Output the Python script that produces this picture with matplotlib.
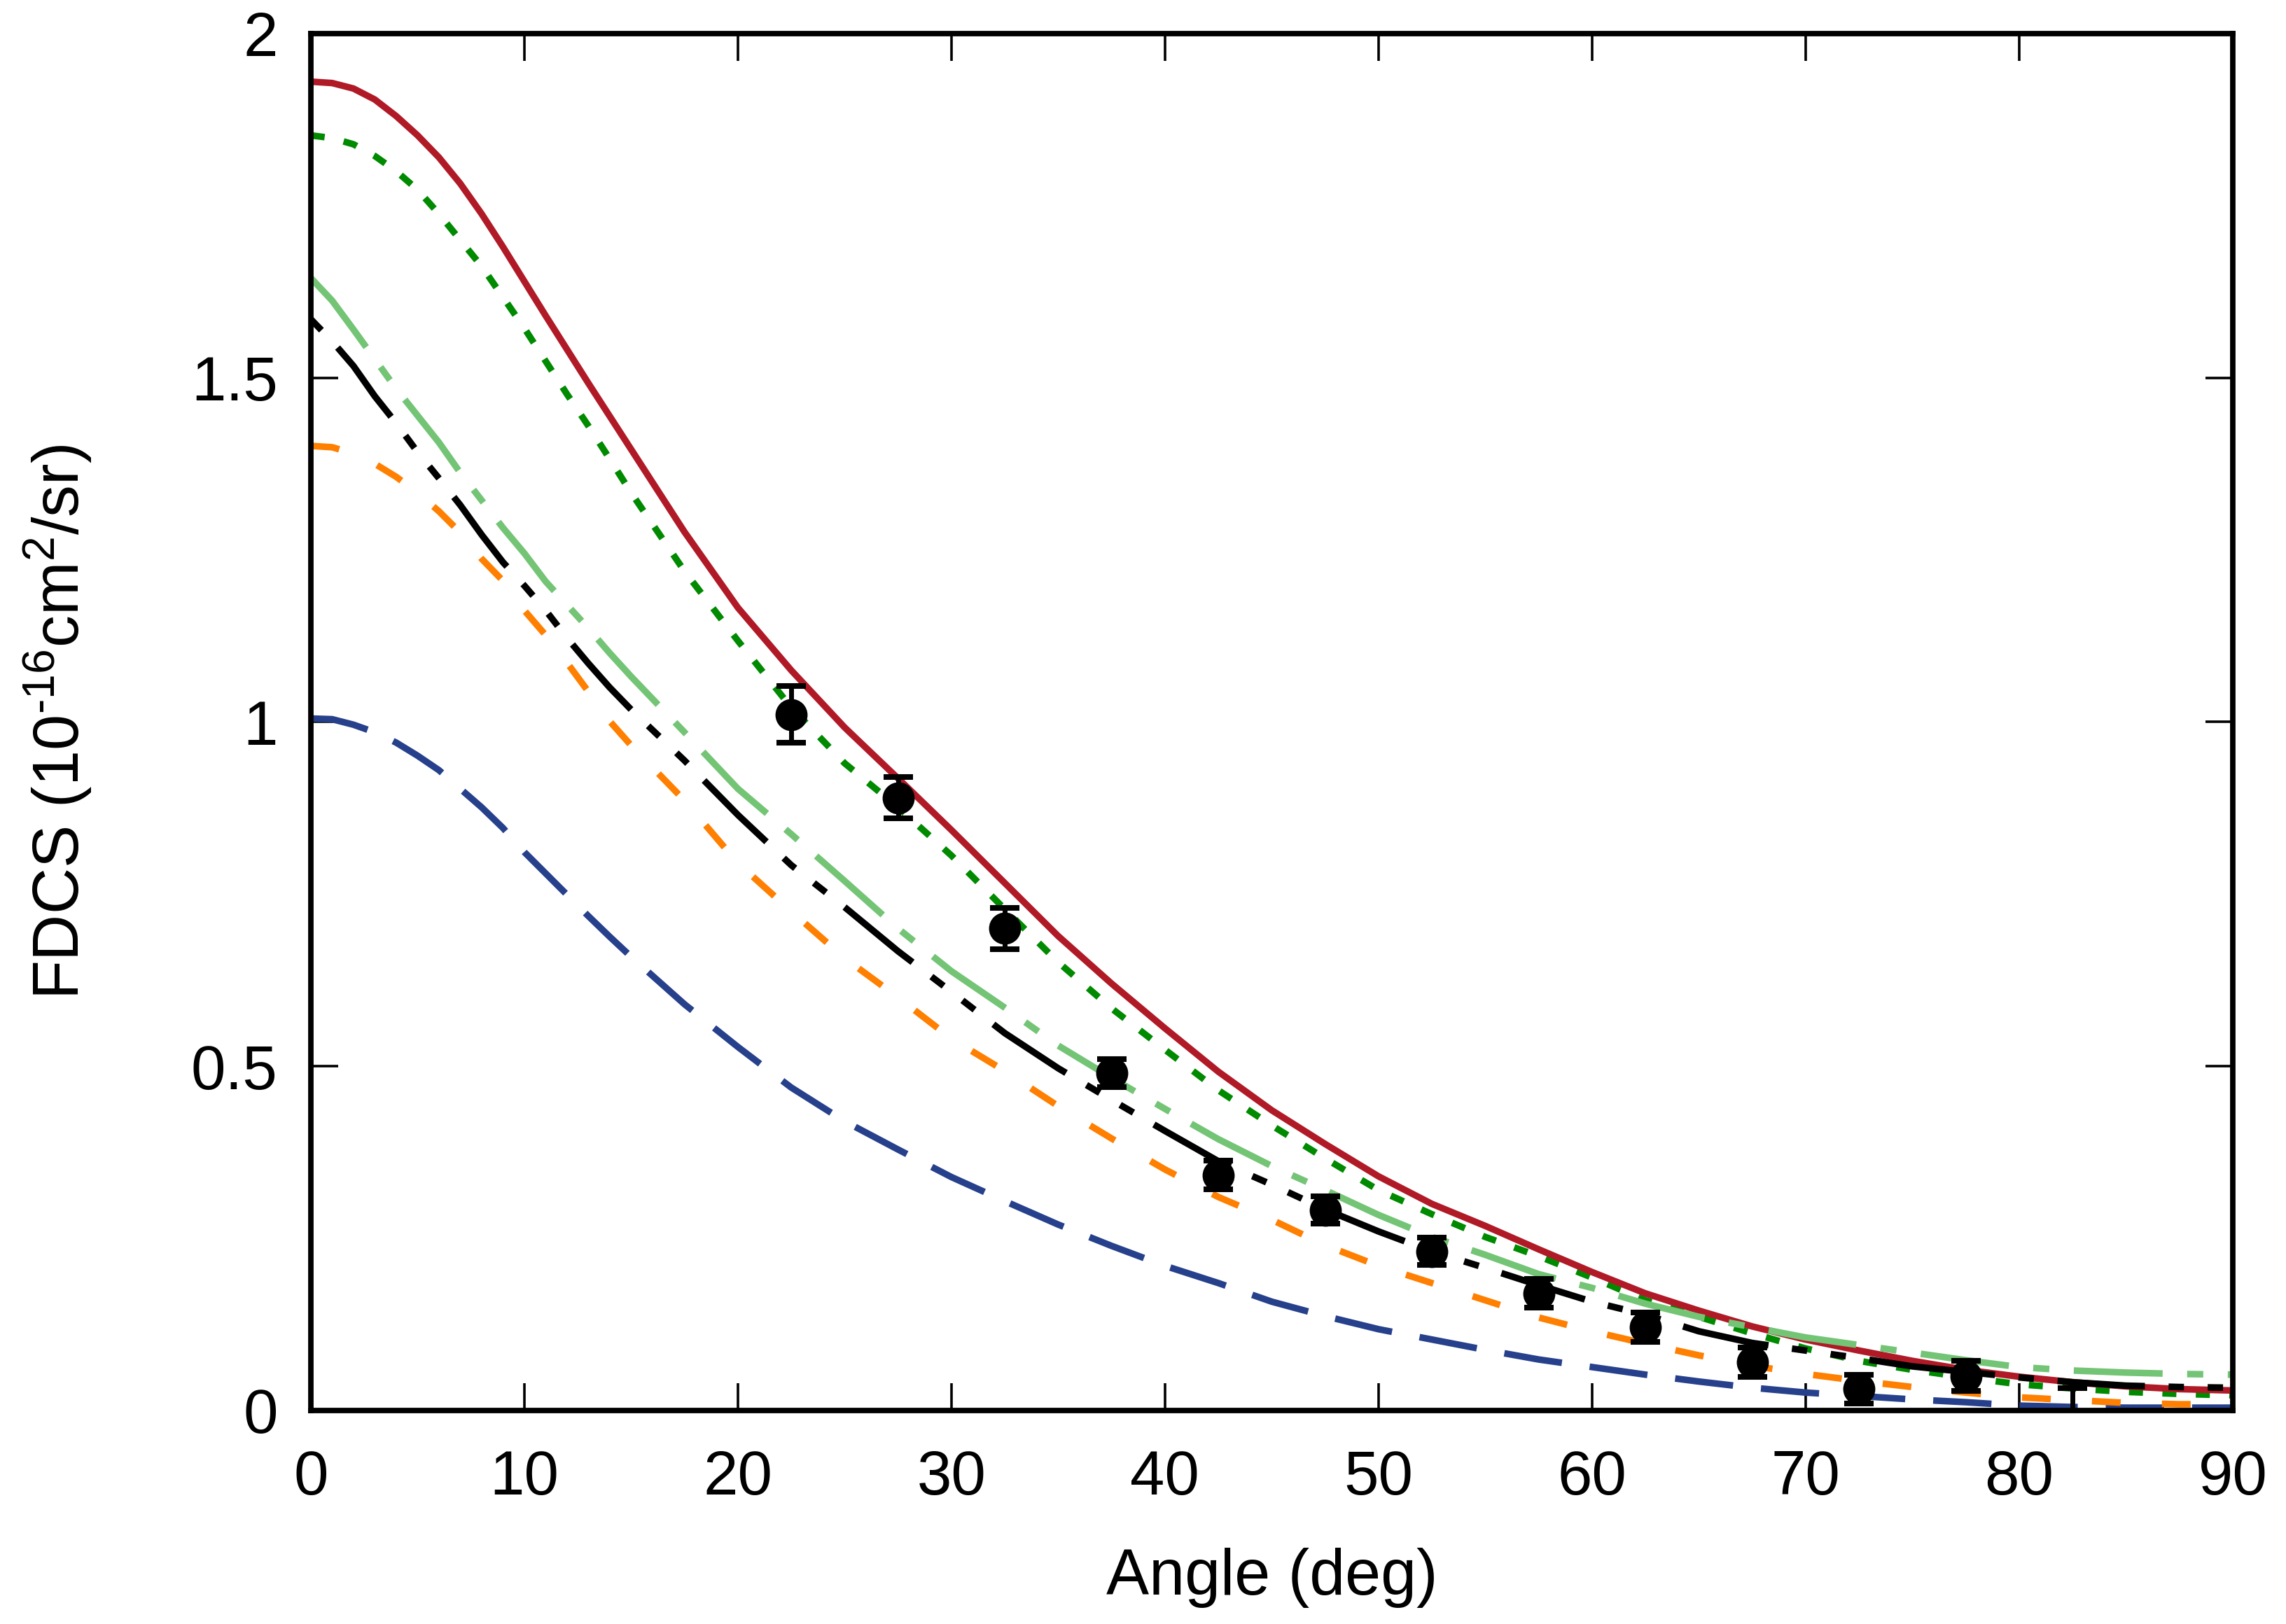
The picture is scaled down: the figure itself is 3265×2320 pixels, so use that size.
import numpy as np
import matplotlib
matplotlib.use("Agg")
import matplotlib.pyplot as plt
from matplotlib.ticker import FuncFormatter

plt.rcParams['font.family'] = ['Liberation Sans', 'DejaVu Sans']
plt.rcParams['mathtext.fontset'] = 'custom'
plt.rcParams['mathtext.rm'] = 'Liberation Sans'
plt.rcParams['mathtext.it'] = 'Liberation Sans'
plt.rcParams['mathtext.default'] = 'regular'
plt.rcParams['lines.scale_dashes'] = False

# Theory curves (angle in deg, FDCS in 1e-16 cm^2/sr)
ang = [0, 1, 2, 3, 4, 5, 6, 7, 8, 9, 10, 11, 12, 13, 14, 15,
       17.5, 20, 22.5, 25, 27.5, 30, 32.5, 35, 37.5, 40, 42.5, 45, 47.5, 50,
       52.5, 55, 57.5, 60, 62.5, 65, 67.5, 70, 72.5, 75, 77.5, 80, 82.5, 85,
       87.5, 90]

red_solid = [1.930, 1.928, 1.920, 1.904, 1.880, 1.852, 1.820, 1.782, 1.738, 1.690,
             1.640, 1.590, 1.541, 1.492, 1.444, 1.396,
             1.276, 1.166, 1.075, 0.992, 0.918, 0.843, 0.766, 0.689, 0.620, 0.555,
             0.492, 0.436, 0.387, 0.340, 0.300, 0.268, 0.234, 0.201, 0.170, 0.145,
             0.122, 0.103, 0.087, 0.072, 0.059, 0.049, 0.041, 0.035, 0.031, 0.029]

green_dot = [1.852, 1.848, 1.839, 1.822, 1.800, 1.773, 1.738, 1.700, 1.662, 1.617,
             1.572, 1.524, 1.476, 1.430, 1.382, 1.333,
             1.219, 1.118, 1.021, 0.940, 0.876, 0.806, 0.728, 0.651, 0.584, 0.524,
             0.465, 0.414, 0.366, 0.320, 0.285, 0.252, 0.224, 0.193, 0.160, 0.136,
             0.112, 0.090, 0.072, 0.059, 0.048, 0.038, 0.032, 0.027, 0.024, 0.022]

lgreen_dashdot = [1.645, 1.612, 1.570, 1.527, 1.484, 1.445, 1.406, 1.362, 1.322, 1.282,
                  1.245, 1.204, 1.170, 1.136, 1.100, 1.066,
                  0.985, 0.903, 0.837, 0.769, 0.700, 0.638, 0.585, 0.530, 0.483, 0.438,
                  0.394, 0.355, 0.320, 0.284, 0.252, 0.226, 0.198, 0.178, 0.155, 0.136,
                  0.121, 0.106, 0.095, 0.084, 0.073, 0.063, 0.058, 0.055, 0.053, 0.052]

black_dashdotdot = [1.585, 1.553, 1.517, 1.473, 1.434, 1.392, 1.354, 1.315, 1.272, 1.232,
                    1.198, 1.162, 1.122, 1.085, 1.050, 1.018,
                    0.944, 0.865, 0.792, 0.731, 0.667, 0.608, 0.548, 0.497, 0.451, 0.406,
                    0.362, 0.328, 0.292, 0.260, 0.231, 0.207, 0.182, 0.158, 0.139, 0.115,
                    0.098, 0.087, 0.076, 0.064, 0.056, 0.048, 0.041, 0.036, 0.034, 0.033]

orange_dash = [1.401, 1.399, 1.390, 1.375, 1.356, 1.333, 1.306, 1.275, 1.237, 1.205,
               1.162, 1.126, 1.086, 1.044, 1.001, 0.966,
               0.886, 0.795, 0.725, 0.657, 0.600, 0.540, 0.493, 0.442, 0.395, 0.350,
               0.310, 0.277, 0.240, 0.210, 0.185, 0.160, 0.135, 0.115, 0.097, 0.080,
               0.065, 0.053, 0.043, 0.034, 0.026, 0.019, 0.015, 0.011, 0.009, 0.009]

blue_longdash = [1.005, 1.004, 0.996, 0.985, 0.970, 0.951, 0.930, 0.903, 0.876, 0.846,
                 0.811, 0.780, 0.749, 0.718, 0.688, 0.659,
                 0.590, 0.528, 0.469, 0.420, 0.379, 0.339, 0.304, 0.270, 0.239, 0.210,
                 0.185, 0.158, 0.137, 0.118, 0.103, 0.088, 0.074, 0.063, 0.052, 0.042,
                 0.033, 0.026, 0.021, 0.016, 0.012, 0.007, 0.005, 0.004, 0.004, 0.004]

# Experimental points
exp_ang = [22.5, 27.5, 32.5, 37.5, 42.5, 47.5, 52.5, 57.5, 62.5, 67.5, 72.5, 77.5, 82.5]
exp_val = [1.011, 0.890, 0.700, 0.490, 0.342, 0.291, 0.231, 0.170, 0.121, 0.070,
           0.031, 0.050, -0.025]
exp_err = [0.041, 0.030, 0.030, 0.020, 0.021, 0.020, 0.020, 0.021, 0.021, 0.021,
           0.021, 0.022, 0.057]

fig = plt.figure(figsize=(16.33, 11.6), dpi=200)
ax = fig.add_axes([0.1359, 0.1315, 0.8405, 0.8479])

lw = 3.4
ax.plot(ang, blue_longdash, color='#26408B', lw=lw, linestyle=(0, (30, 14.4)))
ax.plot(ang, orange_dash, color='#FF7F00', lw=lw, linestyle=(0, (14.8, 21.2)))
ax.plot(ang, green_dot, color='#008A00', lw=lw, linestyle=(0, (7.2, 10)))
ax.plot(ang, red_solid, color='#B01A27', lw=lw)
ax.plot(ang, lgreen_dashdot, color='#74C476', lw=lw,
        linestyle=(0, (45.7, 12.6, 8.3, 12.6)))
ax.plot(ang, black_dashdotdot, color='black', lw=lw,
        linestyle=(77.3, (45, 12.2, 7.9, 12.2, 7.9, 12.2)))

ax.errorbar(exp_ang, exp_val, yerr=exp_err, fmt='o', color='black', ms=15.5,
            elinewidth=2.5, capsize=7.7, capthick=2.9, zorder=5)

ax.set_xlim(0, 90)
ax.set_ylim(0, 2)
ax.set_xticks(np.arange(0, 91, 10))
ax.set_yticks([0, 0.5, 1, 1.5, 2])
ax.yaxis.set_major_formatter(FuncFormatter(lambda v, p: '%g' % v))

for s in ax.spines.values():
    s.set_linewidth(2.8)
ax.tick_params(direction='in', length=14, width=1.3, top=True, right=True,
               labelsize=32, pad=17)
ax.tick_params(axis='x', pad=20)

ax.set_xlabel('Angle (deg)', fontsize=33, va='center')
ax.xaxis.set_label_coords(0.5, -0.1215)
ax.set_ylabel(r'FDCS (10$^{\text{-16}}$cm$^{2}$/sr)', fontsize=33, va='center')
ax.yaxis.set_label_coords(-0.1315, 0.5)

fig.savefig('out.png', dpi=200)
